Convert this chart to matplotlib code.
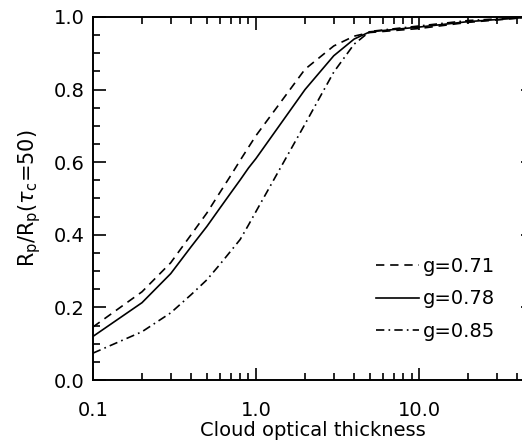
import matplotlib
matplotlib.use("Agg")
import matplotlib.pyplot as plt
from matplotlib.ticker import FixedLocator, FixedFormatter, MultipleLocator, LogLocator, NullFormatter

# data
tau = [0.1, 0.2, 0.3, 0.4, 0.5, 0.6, 0.7, 0.8, 0.9, 1.0, 2.0, 3.0, 4.0, 5.0, 10.0, 20.0, 50.0]
g071 = [0.146, 0.243, 0.323, 0.400, 0.460, 0.516, 0.563, 0.605, 0.641, 0.673, 0.856, 0.920, 0.947, 0.957, 0.968, 0.985, 1.0]
g078 = [0.120, 0.213, 0.293, 0.367, 0.423, 0.473, 0.515, 0.551, 0.584, 0.610, 0.800, 0.893, 0.939, 0.959, 0.972, 0.987, 1.0]
g085 = [0.074, 0.133, 0.185, 0.235, 0.276, 0.318, 0.355, 0.387, 0.427, 0.464, 0.705, 0.848, 0.925, 0.960, 0.975, 0.990, 1.0]
labels = ["g=0.71", "g=0.78", "g=0.85"]

plt.rcParams['font.family'] = ['DejaVu Sans']
plt.rcParams['mathtext.fontset'] = 'dejavusans'

fig = plt.figure(figsize=(5.22, 4.45), dpi=100)
ax = fig.add_axes([0.178, 0.146, 0.843, 0.816])

lw = 1.2
ax.plot(tau, g071, color='black', lw=lw, dashes=(5, 3.5), label=labels[0])
ax.plot(tau, g078, color='black', lw=lw, label=labels[1])
ax.plot(tau, g085, color='black', lw=lw, dashes=(5, 2.5, 1, 2.5), label=labels[2])

ax.set_xscale('log')
ax.set_xlim(0.1, 50)
ax.set_ylim(0, 1)

ax.xaxis.set_major_locator(FixedLocator([0.1, 1, 10]))
ax.xaxis.set_major_formatter(FixedFormatter(["0.1", "1.0", "10.0"]))
ax.xaxis.set_minor_locator(LogLocator(base=10, subs=range(2, 10)))
ax.xaxis.set_minor_formatter(NullFormatter())
ax.yaxis.set_major_locator(MultipleLocator(0.2))
ax.yaxis.set_minor_locator(MultipleLocator(0.05))
ax.yaxis.set_major_formatter(plt.FuncFormatter(lambda v, p: "%.1f" % v))

ax.tick_params(which='both', direction='in', top=True, right=True, width=1.2, labelsize=14)
ax.tick_params(axis='y', pad=6)
ax.tick_params(axis='x', pad=15)
ax.tick_params(which='major', length=9)
ax.tick_params(which='minor', length=5)
for s in ax.spines.values():
    s.set_linewidth(1.4)

ax.set_xlabel("Cloud optical thickness", fontsize=14, labelpad=1)
ax.set_ylabel(r"R$_\mathrm{p}$/R$_\mathrm{p}$($\tau_\mathrm{c}$=50)", fontsize=15, labelpad=8)

ax.legend(loc='upper left', bbox_to_anchor=(0.625, 0.361), frameon=False, fontsize=14,
          handlelength=2.2, handletextpad=0.2, labelspacing=0.7, borderaxespad=0)

fig.savefig("out.png", dpi=100)
